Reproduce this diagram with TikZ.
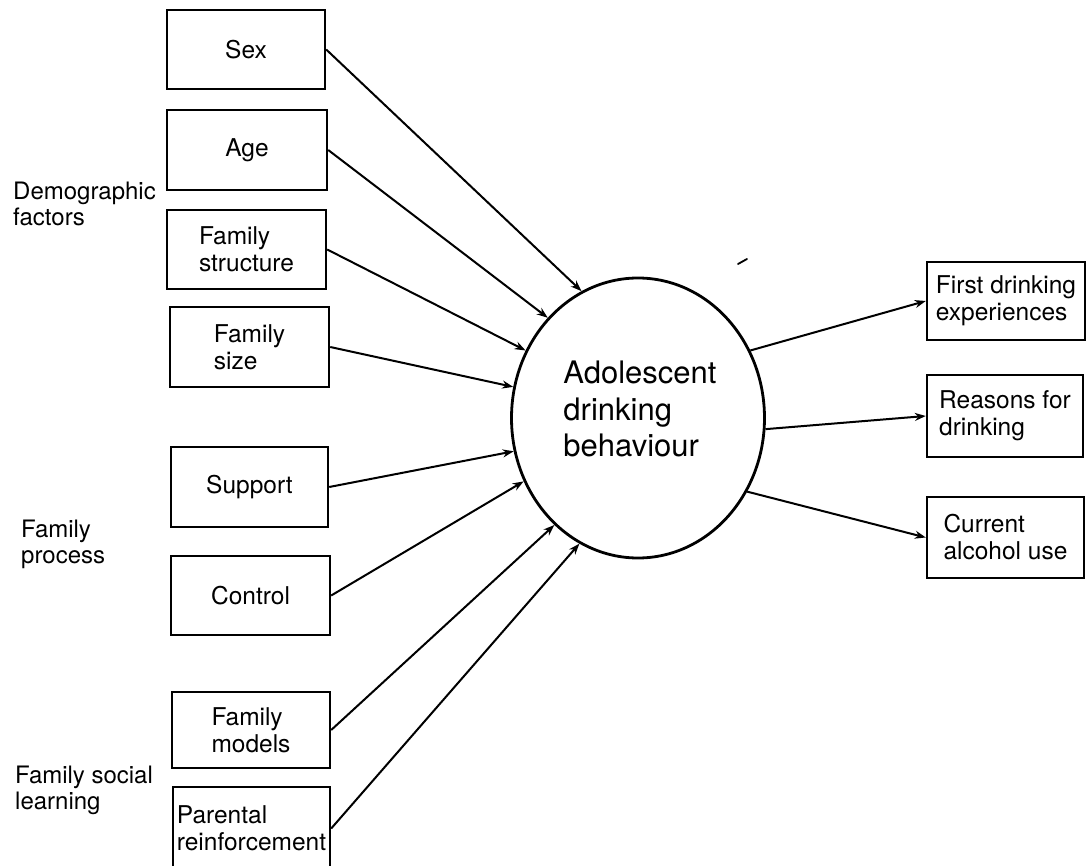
\documentclass[tikz,border=0pt]{standalone}
\usepackage{fontspec}
\setmainfont{TeX Gyre Heros}
\usetikzlibrary{arrows.meta,shapes.geometric}
\begin{document}
\begin{tikzpicture}[x=1pt,y=-1pt,
  factor/.style={draw,line width=2.4pt,inner sep=0pt,align=left,
    font=\fontsize{24.5}{27}\selectfont},
  group/.style={anchor=west,inner sep=0pt,align=left,
    font=\fontsize{24}{26}\selectfont},
  link/.style={line width=2pt,-{Stealth[length=11pt,width=8pt]}}]
\useasboundingbox (0,0) rectangle (1088,866);

% predictor boxes
\node[factor,minimum width=158pt,minimum height=79pt] (sex) at (246,49.5) {Sex};
\node[factor,minimum width=160pt,minimum height=80pt] (age) at (247,150) {Age};
\node[factor,minimum width=159pt,minimum height=79pt] (fstruct) at (246.5,249.5) {Family\\structure};
\node[factor,minimum width=159pt,minimum height=80pt] (fsize) at (249.5,347) {Family\\size};
\node[factor,minimum width=157pt,minimum height=80pt] (support) at (249.5,487) {Support};
\node[factor,minimum width=159pt,minimum height=79pt] (control) at (250.5,595.5) {Control};
\node[factor,minimum width=158pt,minimum height=76pt] (models) at (251,730) {Family\\models};
\node[factor,minimum width=157pt,minimum height=83pt] (reinf) at (251.5,828.5) {Parental\\reinforcement};

% group labels
\node[group] (demo) at (13,204) {Demographic\\factors};
\node[group] (proc) at (21,544) {Family\\process};
\node[group] (social) at (15,790) {Family social\\learning};

% central construct
\node[draw,ellipse,line width=2.8pt,inner sep=0pt,minimum width=253pt,minimum height=280pt] (adb) at (638,418) {};
\node[inner sep=0pt,align=left,font=\fontsize{31}{36.5}\selectfont] (adbtext) at (640,409)
  {Adolescent\\drinking\\behaviour};

% outcome boxes
\node[factor,minimum width=158pt,minimum height=78pt] (first) at (1006,301) {First drinking\\experiences};
\node[factor,minimum width=156pt,minimum height=82pt] (reasons) at (1005,416) {Reasons for\\drinking};
\node[factor,minimum width=157pt,minimum height=81pt] (current) at (1005.5,537.5) {Current\\alcohol use};

% influences on drinking behaviour
\draw[link] (sex.east) -- (adb.114);
\draw[link] (age.east) -- (adb.132);
\draw[link] (fstruct.east) -- (adb.149);
\draw[link] (fsize.east) -- (adb.166);
\draw[link] (support.east) -- (adb.195);
\draw[link] (control.east) -- (adb.209);
\draw[link] (models.east) -- (adb.232);
\draw[link] (reinf.east) -- (adb.245);

% outcomes
\draw[link] (adb.31) -- (first.west);
\draw[link] (adb.-5) -- (reasons.west);
\draw[link] (adb.-34) -- (current.west);

% small stray pen stroke
\draw[line width=1.8pt,line cap=round] (738,264) -- (747,259);
\end{tikzpicture}
\end{document}
